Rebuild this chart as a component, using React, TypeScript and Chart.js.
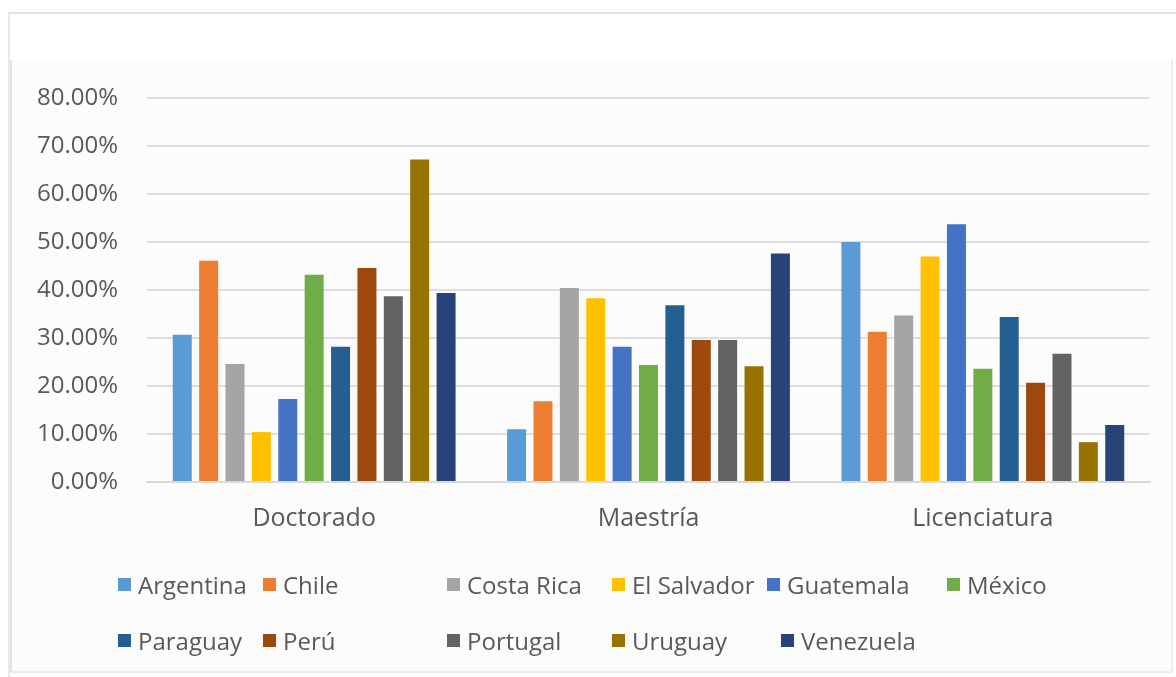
import React, { useEffect, useRef } from "react";
import { Chart, registerables } from "chart.js";

Chart.register(...registerables);

// Degree levels on the x axis
const categories = ["Doctorado", "Maestría", "Licenciatura"];

// Countries (one bar series each)
const countries = [
  "Argentina",
  "Chile",
  "Costa Rica",
  "El Salvador",
  "Guatemala",
  "México",
  "Paraguay",
  "Perú",
  "Portugal",
  "Uruguay",
  "Venezuela",
];

// Share per country, in percent: [Doctorado, Maestría, Licenciatura]
const argentina = [30.7, 11.0, 50.0];
const chile = [46.1, 16.8, 31.3];
const costaRica = [24.6, 40.4, 34.7];
const elSalvador = [10.4, 38.3, 47.0];
const guatemala = [17.3, 28.2, 53.7];
const mexico = [43.2, 24.4, 23.6];
const paraguay = [28.2, 36.8, 34.4];
const peru = [44.6, 29.6, 20.7];
const portugal = [38.7, 29.6, 26.7];
const uruguay = [67.2, 24.1, 8.3];
const venezuela = [39.4, 47.6, 11.9];

const seriesValues = [
  argentina,
  chile,
  costaRica,
  elSalvador,
  guatemala,
  mexico,
  paraguay,
  peru,
  portugal,
  uruguay,
  venezuela,
];

const seriesColors = [
  "#5B9BD5",
  "#ED7D31",
  "#A5A5A5",
  "#FFC000",
  "#4472C4",
  "#70AD47",
  "#255E91",
  "#9E480E",
  "#636363",
  "#997300",
  "#264478",
];

// Y axis: 0% to 80% in steps of 10%
const yMax = 80;
const yStep = 10;

// Legend placement: two rows, items laid out in columns
const legendRows = [
  { top: 584, items: [0, 1, 2, 3, 4, 5], lefts: [118, 263, 447, 612, 767, 947] },
  { top: 640, items: [6, 7, 8, 9, 10], lefts: [118, 263, 447, 612, 781] },
];

const FONT = "'Open Sans', 'Noto Sans', sans-serif";
const TEXT = "#595959";

export default function App() {
  const canvasRef = useRef<HTMLCanvasElement | null>(null);

  useEffect(() => {
    const canvas = canvasRef.current;
    if (!canvas) return;
    const chart = new Chart(canvas, {
      type: "bar",
      data: {
        labels: categories,
        datasets: countries.map((name, i) => ({
          label: name,
          data: seriesValues[i],
          backgroundColor: seriesColors[i],
          borderWidth: 0,
          barPercentage: 0.72,
          categoryPercentage: 0.868,
        })),
      },
      options: {
        animation: false,
        responsive: false,
        maintainAspectRatio: false,
        layout: { padding: { left: 0, right: 26, top: 98, bottom: 0 } },
        plugins: {
          legend: { display: false },
          tooltip: { enabled: false },
          title: { display: false },
        },
        scales: {
          x: {
            grid: { display: false, drawTicks: false },
            border: { display: true, color: "#d9d9d9", width: 2 },
            ticks: {
              color: TEXT,
              font: { family: FONT, size: 25 },
              padding: 22,
            },
            afterFit: (scale: any) => {
              scale.height = 677 - 482;
            },
          },
          y: {
            min: 0,
            max: yMax,
            grid: { color: "#dedede", lineWidth: 2, drawTicks: false },
            border: { display: false },
            ticks: {
              stepSize: yStep,
              color: TEXT,
              font: { family: FONT, size: 24 },
              padding: 29,
              callback: (v: any) => Number(v).toFixed(2) + "%",
            },
            afterFit: (scale: any) => {
              scale.width = 147;
            },
          },
        },
      },
    });
    return () => chart.destroy();
  }, []);

  return (
    <div
      style={{
        position: "absolute",
        left: 0,
        top: 0,
        width: 1176,
        height: 677,
        background: "#ffffff",
        overflow: "hidden",
        fontFamily: FONT,
      }}
    >
      {/* outer frame */}
      <div
        style={{
          position: "absolute",
          left: 8,
          top: 12,
          width: 1168,
          height: 665,
          borderTop: "2px solid #e6e1e1",
          borderLeft: "2px solid #ece8e8",
          boxSizing: "border-box",
        }}
      />
      {/* chart panel */}
      <div
        style={{
          position: "absolute",
          left: 10,
          top: 60,
          width: 1163,
          height: 613,
          background: "#fcfcfc",
          borderLeft: "2px solid #e4e4e4",
          borderRight: "2px solid #ececec",
          borderBottom: "2px solid #ececec",
          boxSizing: "border-box",
        }}
      />
      <canvas
        ref={canvasRef}
        width={1176}
        height={677}
        style={{ position: "absolute", left: 0, top: 0, width: 1176, height: 677 }}
      />
      {legendRows.map((row, r) =>
        row.items.map((idx, k) => (
          <div
            key={`${r}-${k}`}
            style={{
              position: "absolute",
              left: row.lefts[k],
              top: row.top - 17,
              height: 34,
              display: "flex",
              alignItems: "center",
              whiteSpace: "nowrap",
              color: TEXT,
              fontSize: 24,
              fontFamily: FONT,
            }}
          >
            <span
              style={{
                display: "inline-block",
                width: 13,
                height: 13,
                background: seriesColors[idx],
                marginRight: 7,
              }}
            />
            <span>{countries[idx]}</span>
          </div>
        ))
      )}
    </div>
  );
}
